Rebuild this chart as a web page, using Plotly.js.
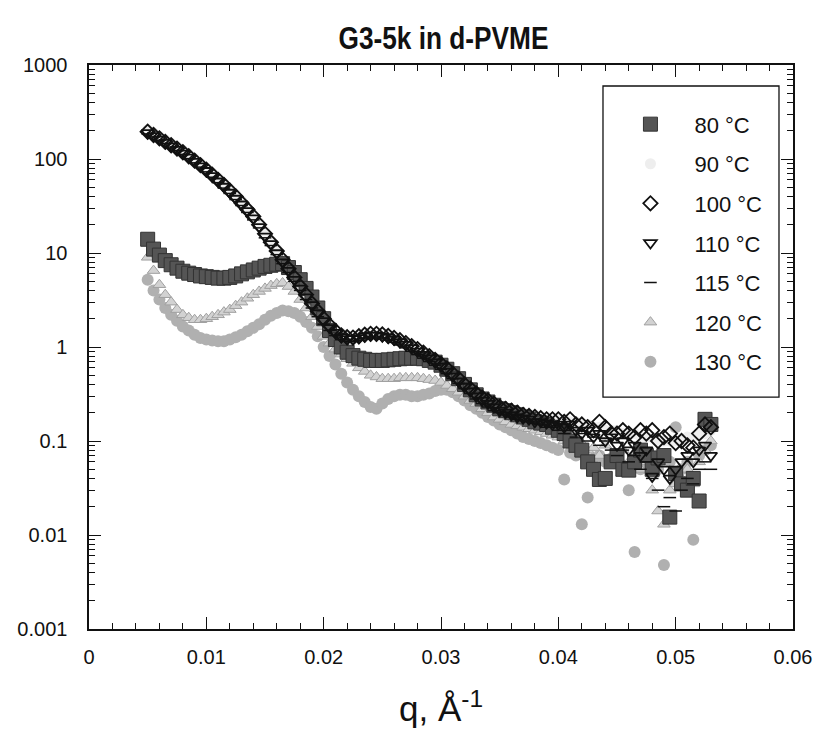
<!DOCTYPE html>
<html>
<head>
<meta charset="utf-8">
<script src="https://cdn.plot.ly/plotly-3.0.1.min.js"></script>
<style>
html,body{margin:0;padding:0;background:#fff;}
#chart{width:819px;height:732px;}
</style>
</head>
<body>
<div id="chart"></div>
<script>
// shared scattering vector q (1/Å)
const q = [0.0050,0.0055,0.0060,0.0065,0.0070,0.0075,0.0080,0.0085,0.0090,0.0095,
0.0100,0.0105,0.0110,0.0115,0.0120,0.0125,0.0130,0.0135,0.0140,0.0145,
0.0150,0.0155,0.0160,0.0165,0.0170,0.0175,0.0180,0.0185,0.0190,0.0195,
0.0200,0.0205,0.0210,0.0215,0.0220,0.0225,0.0230,0.0235,0.0240,0.0245,
0.0250,0.0255,0.0260,0.0265,0.0270,0.0275,0.0280,0.0285,0.0290,0.0295,
0.0300,0.0305,0.0310,0.0315,0.0320,0.0325,0.0330,0.0335,0.0340,0.0345,
0.0350,0.0355,0.0360,0.0365,0.0370,0.0375,0.0380,0.0385,0.0390,0.0395,
0.0400,0.0405,0.0410,0.0415,0.0420,0.0425,0.0430,0.0435,0.0440,0.0445,
0.0450,0.0455,0.0460,0.0465,0.0470,0.0475,0.0480,0.0485,0.0490,0.0495,
0.0500,0.0505,0.0510,0.0515,0.0520,0.0525,0.0530];

const I80 = [14,11,9.5,8.3,7.5,6.9,6.4,6.1,5.9,5.7,
5.6,5.5,5.4,5.4,5.5,5.7,6.0,6.3,6.6,6.9,
7.2,7.4,7.6,7.7,7.0,6.2,5.2,4.2,3.4,2.6,
2.0,1.5,1.2,1.0,0.88,0.81,0.76,0.74,0.72,0.72,
0.72,0.73,0.74,0.75,0.76,0.76,0.76,0.75,0.72,0.69,
0.64,0.58,0.52,0.46,0.40,0.35,0.31,0.28,0.26,0.24,
0.22,0.21,0.20,0.19,0.18,0.17,0.16,0.155,0.15,0.14,
0.13,0.12,0.10,0.09,0.08,0.06,0.05,0.039,0.04,0.06,
0.07,0.05,0.049,0.06,0.08,0.07,0.05,0.066,0.07,0.0155,
0.045,0.035,0.03,0.04,0.023,0.17,0.15];

const I90 = [205,190,175,160,147,135,124,112,101,90,
80,71,63,55,48,42,36,30,25.5,21,
17,13.5,11,8.8,7.0,5.7,4.6,3.7,3.0,2.5,
2.1,1.8,1.55,1.4,1.33,1.32,1.35,1.4,1.43,1.43,
1.4,1.35,1.29,1.22,1.14,1.06,0.98,0.9,0.83,0.76,
0.68,0.61,0.54,0.48,0.42,0.37,0.33,0.3,0.28,0.26,
0.24,0.23,0.22,0.21,0.2,0.19,0.19,0.18,0.18,0.17,
0.17,0.17,0.16,0.16,0.15,0.15,0.14,0.14,0.13,0.13,
0.13,0.12,0.12,0.12,0.11,0.11,0.11,0.1,0.1,0.1,
0.1,0.1,0.11,0.11,0.12,0.12,0.13];

const I100 = [195,180,166,152,140,129,118,107,96,86,
77,68,60,53,46,40,34,29,24.5,20,
16,13,10.5,8.5,6.8,5.5,4.4,3.6,2.9,2.4,
2.0,1.7,1.48,1.33,1.27,1.26,1.3,1.35,1.38,1.38,
1.36,1.31,1.25,1.18,1.1,1.02,0.95,0.87,0.8,0.73,
0.66,0.59,0.52,0.46,0.40,0.36,0.32,0.29,0.27,0.25,
0.23,0.22,0.21,0.2,0.19,0.185,0.18,0.175,0.17,0.17,
0.17,0.16,0.17,0.15,0.15,0.14,0.13,0.16,0.14,0.12,
0.12,0.13,0.12,0.11,0.13,0.12,0.13,0.10,0.11,0.12,
0.095,0.10,0.09,0.085,0.12,0.15,0.14];

const I110 = [190,176,162,149,137,126,115,104,94,84,
75,66,58,51,44,38,33,28,23.5,19,
15,12.5,10,8,6.5,5.2,4.2,3.4,2.8,2.3,
1.9,1.6,1.42,1.28,1.22,1.22,1.25,1.3,1.33,1.33,
1.3,1.26,1.2,1.13,1.06,0.98,0.9,0.83,0.76,0.69,
0.62,0.55,0.49,0.43,0.38,0.34,0.3,0.27,0.25,0.23,
0.21,0.2,0.19,0.18,0.175,0.17,0.16,0.16,0.155,0.15,
0.15,0.14,0.15,0.13,0.12,0.13,0.11,0.12,0.1,0.11,
0.09,0.1,0.08,0.09,0.07,0.08,0.042,0.06,0.05,0.04,
0.05,0.06,0.07,0.06,0.08,0.09,0.07];

const I115 = [185,172,158,146,134,123,112,101,91,82,
73,64,56,49,43,37,32,27,22.5,18.5,
14.5,12,9.6,7.7,6.2,5.0,4.0,3.2,2.6,2.1,
1.75,1.5,1.32,1.2,1.15,1.15,1.18,1.22,1.25,1.25,
1.22,1.18,1.12,1.05,0.98,0.9,0.83,0.76,0.7,0.64,
0.58,0.52,0.46,0.41,0.36,0.32,0.28,0.25,0.23,0.21,
0.2,0.19,0.18,0.17,0.165,0.16,0.155,0.15,0.14,0.14,
0.13,0.12,0.13,0.11,0.12,0.1,0.11,0.09,0.1,0.08,
0.07,0.08,0.06,0.07,0.05,0.06,0.04,0.03,0.02,0.025,
0.018,0.03,0.04,0.035,0.05,0.06,0.05];

const I120 = [9,6.5,4.6,3.6,3.0,2.5,2.2,2.05,1.95,1.95,
2.0,2.1,2.2,2.35,2.5,2.75,3.0,3.3,3.6,3.9,
4.2,4.5,4.7,4.8,4.4,3.9,3.2,2.6,2.1,1.65,
1.3,1.1,0.95,0.84,0.75,0.67,0.6,0.55,0.5,0.48,
0.46,0.46,0.46,0.47,0.47,0.47,0.47,0.46,0.45,0.44,
0.42,0.39,0.36,0.33,0.3,0.27,0.25,0.22,0.2,0.18,
0.17,0.16,0.15,0.145,0.14,0.135,0.13,0.125,0.12,0.115,
0.11,0.1,0.105,0.09,0.095,0.08,0.085,0.07,0.09,0.06,
0.07,0.08,0.06,0.07,0.05,0.06,0.03,0.018,0.013,0.03,
0.035,0.04,0.05,0.035,0.06,0.08,0.1];

const I130 = [5.2,4.0,3.2,2.6,2.2,1.9,1.65,1.5,1.35,1.25,
1.2,1.17,1.15,1.15,1.2,1.27,1.35,1.47,1.6,1.75,
1.95,2.15,2.3,2.45,2.4,2.3,2.1,1.85,1.6,1.3,
1.0,0.8,0.65,0.52,0.42,0.35,0.3,0.26,0.23,0.22,
0.25,0.28,0.3,0.31,0.31,0.3,0.3,0.31,0.32,0.34,
0.35,0.35,0.33,0.3,0.27,0.24,0.22,0.2,0.18,0.165,
0.15,0.14,0.13,0.12,0.11,0.105,0.1,0.095,0.09,0.085,
0.08,0.039,0.075,0.07,0.013,0.025,0.065,0.07,0.06,0.065,
0.06,0.055,0.03,0.0066,0.05,0.06,0.055,0.05,0.0048,0.06,
0.14,0.05,0.06,0.0089,0.07,0.08,0.09];

const seriesNames = ['80 °C','90 °C','100 °C','110 °C','115 °C','120 °C','130 °C'];
const xTickVals = [0,0.01,0.02,0.03,0.04,0.05,0.06];
const xTickText = ['0','0.01','0.02','0.03','0.04','0.05','0.06'];
const yTickVals = [0.001,0.01,0.1,1,10,100,1000];
const yTickText = ['0.001','0.01','0.1','1','10','100','1000'];
const yMinorVals = [0.002,0.003,0.004,0.005,0.006,0.007,0.008,0.009,
  0.02,0.03,0.04,0.05,0.06,0.07,0.08,0.09,
  0.2,0.3,0.4,0.5,0.6,0.7,0.8,0.9,
  2,3,4,5,6,7,8,9,20,30,40,50,60,70,80,90,
  200,300,400,500,600,700,800,900];

function tr(name, y, marker, rank){
  return {x:q, y:y, name:name, type:'scatter', mode:'markers', marker:marker,
          legendgroup:name, legendrank:rank};
}
const traces = [
  tr(seriesNames[6], I130, {symbol:'circle', size:12, color:'#b0b0b0'}, 7),
  tr(seriesNames[5], I120, {symbol:'triangle-up', size:11, color:'#d2d2d2', line:{color:'#a0a0a0', width:1}}, 6),
  tr(seriesNames[1], I90, {symbol:'circle', size:11, color:'#eeeeee'}, 2),
  tr(seriesNames[0], I80, {symbol:'square', size:14, color:'#555555', line:{color:'#333333', width:1}}, 1),
  tr(seriesNames[4], I115, {symbol:'line-ew', size:9, line:{color:'#111111', width:1.5}}, 5),
  tr(seriesNames[3], I110, {symbol:'triangle-down-open', size:11, color:'#111111', line:{width:1.8}}, 4),
  tr(seriesNames[2], I100, {symbol:'diamond-open', size:11, color:'#111111', line:{width:1.8}}, 3)
];

const FONT = 'Liberation Sans, Arial, sans-serif';
const layout = {
  width:819, height:732,
  paper_bgcolor:'#ffffff', plot_bgcolor:'#ffffff',
  margin:{l:89, r:26, t:65, b:103},
  font:{family:FONT, color:'#111111', size:20},
  title:{text:'<b>G3-5k in d-PVME</b>', x:0.5415, xanchor:'center', y:0.9485, yanchor:'middle',
         font:{size:32, family:FONT, color:'#111111'}},
  showlegend:true,
  legend:{x:0.735, y:0.932, xanchor:'left', yanchor:'top', bgcolor:'rgba(0,0,0,0)',
          borderwidth:0, traceorder:'grouped', tracegroupgap:8,
          itemwidth:78, font:{size:22, color:'#111111'}},
  shapes:[{type:'rect', xref:'paper', yref:'paper', x0:0.7301, x1:0.9801, y0:0.4113, y1:0.9628,
           line:{color:'#111111', width:1.3}, fillcolor:'#ffffff', layer:'below'}],
  xaxis:{type:'linear', range:[0,0.06], tickvals:xTickVals, ticktext:xTickText,
         ticks:'inside', ticklen:12, tickwidth:1, tickcolor:'#111111',
         minor:{dtick:0.002, ticks:'inside', ticklen:6, tickcolor:'#111111'},
         showline:true, linecolor:'#111111', linewidth:1.6, mirror:'ticks',
         showgrid:false, zeroline:false, ticklabelstandoff:9,
         tickfont:{size:20},
         title:{text:'q, Å<sup>-1</sup>', font:{size:35}, standoff:30}},
  yaxis:{type:'log', range:[-3,3], tickvals:yTickVals, ticktext:yTickText,
         ticks:'inside', ticklen:12, tickwidth:1, tickcolor:'#111111',
         minor:{tickvals:yMinorVals, ticks:'inside', ticklen:6, tickcolor:'#111111'},
         showline:true, linecolor:'#111111', linewidth:1.6, mirror:'ticks',
         showgrid:false, zeroline:false, ticklabelstandoff:16,
         tickfont:{size:20}}
};

Plotly.newPlot('chart', traces, layout, {displayModeBar:false, staticPlot:true}).then(function(gd){
  // the reference title is set in a condensed bold face: compress it horizontally
  const t = gd.querySelector('.gtitle');
  if (t) {
    const cx = parseFloat(t.getAttribute('x')) || 0;
    const prev = t.getAttribute('transform') || '';
    t.setAttribute('transform', prev + ' translate(' + cx + ',0) scale(0.82,1) translate(' + (-cx) + ',0)');
  }
});
</script>
</body>
</html>
